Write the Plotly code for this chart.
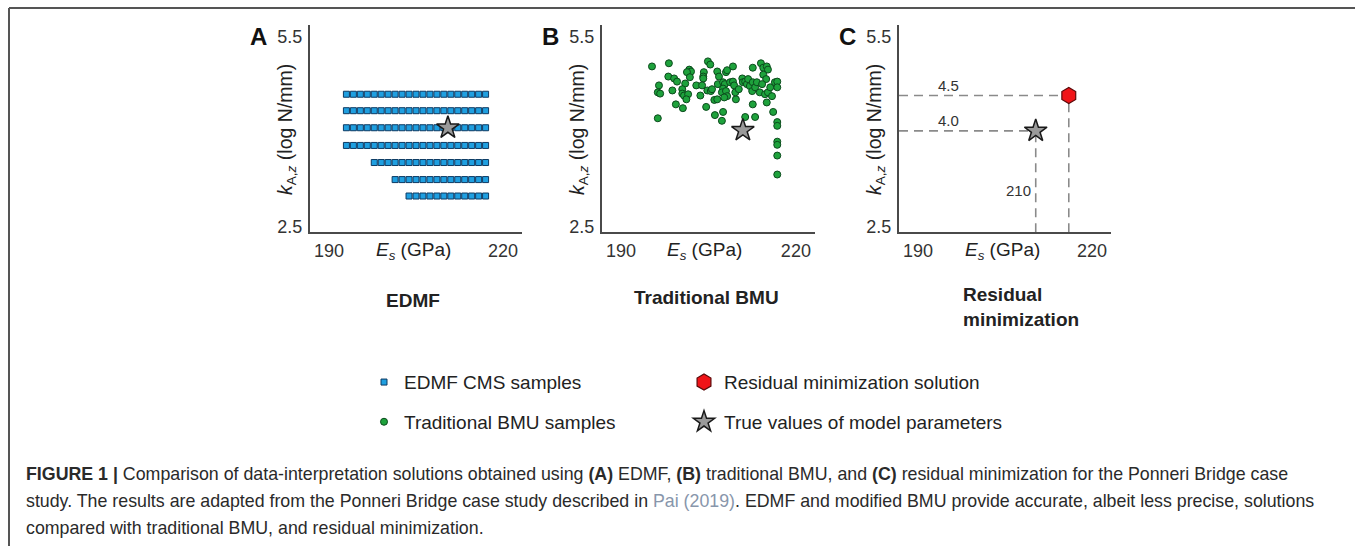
import plotly.graph_objects as go

W, H = 1355, 550

# ---------------- data ----------------
# Panel A: EDMF candidate model set (grid of E_s values, one row per k_A,z level)
edmf_es_grid = [193.0, 194.2, 195.4, 196.6, 197.8, 199.0, 200.2, 201.4, 202.6, 203.8,
                205.0, 206.2, 207.4, 208.6, 209.8, 211.0, 212.2, 213.4, 214.6, 215.8, 217.0]
edmf_k_rows = [4.59, 4.33, 4.06, 3.78, 3.51, 3.24, 2.98]
edmf_row_first_es = [193.0, 193.0, 193.0, 193.0, 197.8, 201.4, 203.8]

# Panel B: traditional BMU samples
bmu_es = [195.3, 198.2, 198.1, 199.1, 199.6, 196.5, 196.3, 196.7, 198.8, 201.0,
          200.5, 200.5, 200.8, 201.5, 201.2, 201.7, 202.0, 201.3, 201.8, 204.2,
          204.1, 204.1, 204.9, 205.3, 202.9, 203.9, 203.6, 204.8, 205.4, 205.6,
          199.4, 200.6, 204.6, 196.3, 206.0, 206.5, 206.1, 206.5, 206.8, 206.6,
          208.0, 208.2, 209.2, 207.5, 207.8, 207.5, 207.3, 208.0, 208.2, 208.7,
          209.2, 209.4, 207.7, 209.7, 209.6, 210.2, 210.8, 210.9, 211.3, 211.6,
          211.8, 212.1, 212.5, 212.6, 213.0, 213.3, 212.6, 214.0, 214.4, 215.0,
          215.2, 214.4, 214.9, 214.2, 213.8, 214.7, 215.2, 215.6, 216.4, 216.8,
          216.8, 215.9, 215.0, 212.6, 216.1, 207.5, 207.3, 211.3, 213.0, 216.8,
          216.8, 216.8, 216.8, 216.8, 216.8]
bmu_k = [5.03, 5.08, 4.87, 4.84, 4.79, 4.73, 4.62, 4.60, 4.65, 4.76,
         4.67, 4.60, 4.57, 4.59, 4.51, 4.98, 4.95, 4.94, 4.86, 4.94,
         4.87, 4.84, 5.11, 5.06, 4.73, 4.73, 4.57, 4.65, 4.64, 4.67,
         4.43, 4.37, 4.39, 4.21, 4.50, 4.51, 4.26, 4.95, 4.87, 4.75,
         4.94, 4.97, 5.03, 4.78, 4.75, 4.68, 4.62, 4.64, 4.56, 4.78,
         4.79, 4.73, 4.54, 4.51, 4.62, 4.67, 4.84, 4.78, 4.79, 4.75,
         4.83, 4.72, 4.64, 4.78, 4.70, 4.78, 5.01, 5.08, 5.01, 5.03,
         4.98, 4.90, 4.83, 4.75, 4.62, 4.59, 4.62, 4.70, 4.78, 4.79,
         4.70, 4.56, 4.46, 4.43, 4.31, 4.31, 4.17, 4.23, 4.23, 4.15,
         4.09, 3.84, 3.79, 3.62, 3.32]

# true values of model parameters as drawn in each panel
true_es = [210.5, 210.9, 210.3]
true_k = [4.06, 4.02, 4.01]

# Panel C: residual minimization solution
resid_es = 216.0
resid_k = 4.57

x_tick_vals = [190, 220]
x_tick_text = ["190", "220"]
y_tick_vals = [2.5, 5.5]
y_tick_text = ["2.5", "5.5"]

panel_letters = ["A", "B", "C"]
panel_titles = ["EDMF", "Traditional BMU", "Residual<br>minimization"]
c_labels = ["4.5", "4.0", "210"]

legend_names = ["EDMF CMS samples", "Traditional BMU samples",
                "Residual minimization solution", "True values of model parameters"]

caption_lines = [
    "<b>FIGURE 1 |</b> Comparison of data-interpretation solutions obtained using <b>(A)</b> EDMF, "
    "<b>(B)</b> traditional BMU, and <b>(C)</b> residual minimization for the Ponneri Bridge case",
    "study. The results are adapted from the Ponneri Bridge case study described in "
    "<span style='color:#8896ab'>Pai (2019)</span>. EDMF and modified BMU provide accurate, "
    "albeit less precise, solutions",
    "compared with traditional BMU, and residual minimization.",
]

# ---------------- layout helpers ----------------
FONT = "Liberation Sans, Arial, sans-serif"
X_RANGE = [186.72, 223.28]
Y_RANGE = [2.406, 5.6885]
panel_px = [(310, 522), (602, 815), (899, 1111)]
y_top_px, y_bot_px = 25, 234


def pxx(x):
    return x / W


def pxy(y):
    return 1 - y / H


# build EDMF points
edmf_x, edmf_y = [], []
for k, first in zip(edmf_k_rows, edmf_row_first_es):
    for e in edmf_es_grid:
        if e >= first - 1e-9:
            edmf_x.append(e)
            edmf_y.append(k)

fig = go.Figure()

fig.add_trace(go.Scatter(
    x=edmf_x, y=edmf_y, mode="markers", xaxis="x", yaxis="y",
    name=legend_names[0], legend="legend",
    marker=dict(symbol="square", size=6, color="#1f9fe0",
                line=dict(color="#0d3a63", width=1)),
    hoverinfo="skip"))

fig.add_trace(go.Scatter(
    x=[resid_es], y=[resid_k], mode="markers", xaxis="x3", yaxis="y3",
    name=legend_names[2], legend="legend",
    marker=dict(symbol="hexagon", size=16, color="#f01418",
                line=dict(color="#5a0a0a", width=1.2)),
    hoverinfo="skip"))

fig.add_trace(go.Scatter(
    x=bmu_es, y=bmu_k, mode="markers", xaxis="x2", yaxis="y2",
    name=legend_names[1], legend="legend2",
    marker=dict(symbol="circle", size=7, color="#1ea23c",
                line=dict(color="#0b4a1c", width=1)),
    hoverinfo="skip"))

for i in range(3):
    ax = "" if i == 0 else str(i + 1)
    fig.add_trace(go.Scatter(
        x=[true_es[i]], y=[true_k[i]], mode="markers",
        xaxis="x" + ax, yaxis="y" + ax,
        name=legend_names[3], legend="legend2", showlegend=(i == 0),
        marker=dict(symbol="star", size=17, color="#9a9a9a",
                    line=dict(color="#1a1a1a", width=1.5)),
        hoverinfo="skip"))

layout = dict(
    width=W, height=H, margin=dict(l=0, r=0, t=0, b=0),
    paper_bgcolor="white", plot_bgcolor="white",
    font=dict(family=FONT, color="#222"),
    showlegend=True,
)

for i, (l, r) in enumerate(panel_px):
    ax = "" if i == 0 else str(i + 1)
    layout["xaxis" + ax] = dict(
        domain=[pxx(l), pxx(r)], range=X_RANGE, anchor="y" + ax,
        showline=True, linecolor="#4a4a4a", linewidth=2, mirror=False,
        showgrid=False, zeroline=False, ticks="",
        tickvals=x_tick_vals, ticktext=x_tick_text, ticklabelstandoff=1,
        tickfont=dict(size=18, color="#333", family=FONT), fixedrange=True)
    layout["yaxis" + ax] = dict(
        domain=[pxy(y_bot_px), pxy(y_top_px)], range=Y_RANGE, anchor="x" + ax,
        showline=True, linecolor="#4a4a4a", linewidth=2,
        showgrid=False, zeroline=False, ticks="",
        tickvals=y_tick_vals, ticktext=y_tick_text, ticklabelstandoff=2,
        tickfont=dict(size=18, color="#333", family=FONT), fixedrange=True)

layout["legend"] = dict(
    orientation="h", x=pxx(364), xanchor="left", y=pxy(385), yanchor="middle",
    entrywidth=275, font=dict(size=19, family=FONT, color="#222"),
    bgcolor="rgba(0,0,0,0)", itemclick=False, itemdoubleclick=False)
layout["legend2"] = dict(
    orientation="h", x=pxx(364), xanchor="left", y=pxy(425), yanchor="middle",
    entrywidth=275, font=dict(size=19, family=FONT, color="#222"),
    bgcolor="rgba(0,0,0,0)", itemclick=False, itemdoubleclick=False)

annotations = []
shapes = []

for i, (l, r) in enumerate(panel_px):
    # panel letter
    annotations.append(dict(xref="paper", yref="paper", x=pxx(l - 52), y=pxy(37),
                            text="<b>%s</b>" % panel_letters[i], showarrow=False,
                            font=dict(size=24, color="#111", family=FONT),
                            xanchor="center", yanchor="middle"))
    # y axis title
    annotations.append(dict(xref="paper", yref="paper", x=pxx(l - 24), y=pxy(131),
                            text="<i>k</i><sub>A,<i>z</i></sub> (log N/mm)", showarrow=False,
                            textangle=-90, font=dict(size=19.5, color="#222", family=FONT),
                            xanchor="center", yanchor="middle"))
    # x axis title
    annotations.append(dict(xref="paper", yref="paper", x=pxx(l + 103), y=pxy(253),
                            text="<i>E</i><sub><i>s</i></sub> (GPa)", showarrow=False,
                            font=dict(size=19, color="#222", family=FONT),
                            xanchor="center", yanchor="middle"))

# panel titles
annotations.append(dict(xref="paper", yref="paper", x=pxx(413), y=pxy(303),
                        text="<b>%s</b>" % panel_titles[0], showarrow=False,
                        font=dict(size=19, color="#222", family=FONT),
                        xanchor="center", yanchor="middle"))
annotations.append(dict(xref="paper", yref="paper", x=pxx(706), y=pxy(300),
                        text="<b>%s</b>" % panel_titles[1], showarrow=False,
                        font=dict(size=19, color="#222", family=FONT),
                        xanchor="center", yanchor="middle"))
annotations.append(dict(xref="paper", yref="paper", x=pxx(961), y=pxy(309),
                        text="<b>%s</b>" % panel_titles[2], showarrow=False, align="left",
                        font=dict(size=19, color="#222", family=FONT),
                        xanchor="left", yanchor="middle"))

# panel C dashed guides
dash_line = dict(color="#8a8a8a", width=1.6, dash="9px,6px")
shapes += [
    dict(type="line", xref="x3", yref="y3", x0=X_RANGE[0], x1=resid_es,
         y0=resid_k, y1=resid_k, line=dash_line, layer="below"),
    dict(type="line", xref="x3", yref="y3", x0=resid_es, x1=resid_es,
         y0=Y_RANGE[0], y1=resid_k, line=dash_line, layer="below"),
    dict(type="line", xref="x3", yref="y3", x0=X_RANGE[0], x1=true_es[2],
         y0=true_k[2], y1=true_k[2], line=dash_line, layer="below"),
    dict(type="line", xref="x3", yref="y3", x0=true_es[2], x1=true_es[2],
         y0=Y_RANGE[0], y1=true_k[2], line=dash_line, layer="below"),
]
annotations += [
    dict(xref="x3", yref="y3", x=195.2, y=resid_k, yshift=10, text=c_labels[0],
         showarrow=False, font=dict(size=15, color="#333", family=FONT),
         xanchor="center", yanchor="middle"),
    dict(xref="x3", yref="y3", x=195.2, y=true_k[2], yshift=10, text=c_labels[1],
         showarrow=False, font=dict(size=15, color="#333", family=FONT),
         xanchor="center", yanchor="middle"),
    dict(xref="x3", yref="y3", x=true_es[2], xshift=-3, y=3.07, text=c_labels[2],
         showarrow=False, font=dict(size=15, color="#333", family=FONT),
         xanchor="right", yanchor="middle"),
]

# figure frame (top and left edges)
shapes += [
    dict(type="line", xref="paper", yref="paper", x0=pxx(9), x1=1, y0=pxy(8), y1=pxy(8),
         line=dict(color="#555", width=2)),
    dict(type="line", xref="paper", yref="paper", x0=pxx(9), x1=pxx(9), y0=0, y1=pxy(8),
         line=dict(color="#555", width=2)),
]

# caption
for j, (line, ypos) in enumerate(zip(caption_lines, [477, 505, 532])):
    annotations.append(dict(xref="paper", yref="paper", x=pxx(24), y=pxy(ypos),
                            text=line, showarrow=False, align="left",
                            font=dict(size=17.8, color="#2a2a2a", family=FONT),
                            xanchor="left", yanchor="middle"))

layout["annotations"] = annotations
layout["shapes"] = shapes

fig.update_layout(**layout)

fig.write_html("out.html", config={"displayModeBar": False},
               post_script="document.body.style.margin='0';document.body.style.overflow='hidden';")
